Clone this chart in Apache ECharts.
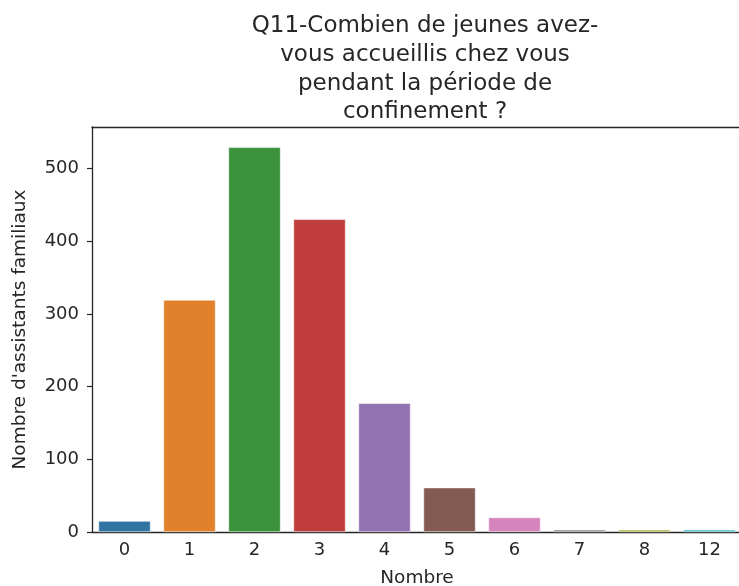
<!DOCTYPE html>
<html>
<head>
<meta charset="utf-8">
<script src="https://cdn.jsdelivr.net/npm/echarts@6/dist/echarts.min.js"></script>
<style>html,body{margin:0;padding:0;background:#fff}#c{width:739px;height:586px}</style>
</head>
<body>
<div id="c"></div>
<script>
const categories = ['0','1','2','3','4','5','6','7','8','12'];
const values = [15, 319, 529, 430, 177, 61, 20, 3, 3, 3];
const colors = ['#3274a1','#e1812c','#3a923a','#c03d3e','#9372b2','#845b53','#d684bd','#7f7f7f','#a9aa35','#2eb4c4'];
const yTicks = [0, 100, 200, 300, 400, 500];
const titleText = 'Q11-Combien de jeunes avez-\nvous accueillis chez vous\npendant la période de\nconfinement ?';

const chart = echarts.init(document.getElementById('c'), null, {renderer: 'canvas'});
const font = 'DejaVu Sans';
const ink = '#262626';
chart.setOption({
  animation: false,
  backgroundColor: '#fff',
  title: {
    text: titleText,
    left: 420, top: 7, textAlign: 'center',
    textStyle: {fontFamily: font, fontSize: 23, fontWeight: 'normal', color: ink, lineHeight: 28.7}
  },
  grid: {left: 92, top: 127, width: 650, height: 405, containLabel: false, outerBoundsMode: 'none'},
  xAxis: [{
    type: 'category', data: categories, position: 'bottom',
    name: 'Nombre', nameLocation: 'middle', nameGap: 37,
    nameTextStyle: {fontFamily: font, fontSize: 18.5, color: ink},
    axisLine: {lineStyle: {color: ink, width: 1.3}},
    axisTick: {alignWithLabel: true, length: 5, lineStyle: {color: ink, width: 1.2}},
    axisLabel: {fontFamily: font, fontSize: 18, color: ink, margin: 9},
    splitLine: {show: false}
  }, {
    type: 'category', data: categories, position: 'top',
    axisLine: {lineStyle: {color: ink, width: 1.3}},
    axisTick: {show: false}, axisLabel: {show: false}
  }],
  yAxis: {
    type: 'value', min: 0, max: 557,
    name: "Nombre d'assistants familiaux", nameLocation: 'middle', nameGap: 62,
    nameTextStyle: {fontFamily: font, fontSize: 18.5, color: ink},
    axisLine: {show: true, lineStyle: {color: ink, width: 1.3}},
    axisTick: {show: true, length: 5, lineStyle: {color: ink, width: 1.2}, customValues: yTicks},
    axisLabel: {fontFamily: font, fontSize: 18, color: ink, margin: 13, customValues: yTicks},
    splitLine: {show: false}
  },
  series: [{
    type: 'bar', xAxisIndex: 0,
    data: values.map((v, i) => ({value: v, itemStyle: {color: colors[i]}})),
    barWidth: '80%',
    itemStyle: {borderColor: '#fff', borderWidth: 0.5}
  }]
});
</script>
</body>
</html>
